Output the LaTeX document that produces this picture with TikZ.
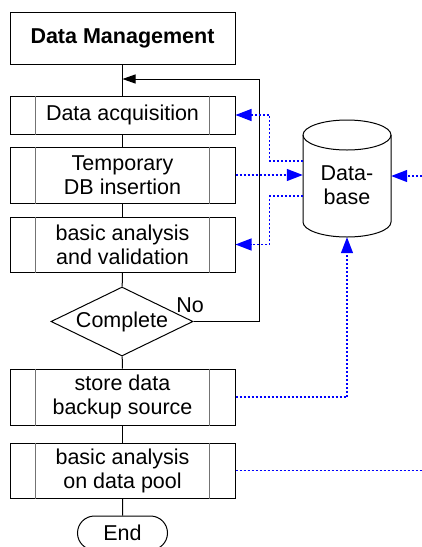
\documentclass[tikz,border=0pt]{standalone}
\usepackage{fontspec}
\setmainfont{Liberation Sans}
\usetikzlibrary{shapes.geometric,shapes.misc,arrows.meta,calc}
\begin{document}
\begin{tikzpicture}[x=1pt,y=-1pt,
  every node/.style={font=\fontsize{21.5}{24}\selectfont},
  procbox/.style={draw=black,line width=1pt,minimum width=225pt,inner sep=0pt,align=center},
  titlebox/.style={draw=black,line width=1pt,minimum width=225pt,minimum height=52pt,inner sep=0pt,font=\fontsize{21.5}{24}\selectfont\bfseries},
  decbox/.style={draw=black,line width=1pt,diamond,aspect=2.06,minimum width=142pt,minimum height=69pt,inner sep=0pt},
  termbox/.style={draw=black,line width=1pt,rounded rectangle,minimum width=90pt,minimum height=34pt,inner sep=0pt},
  flow/.style={draw=black,line width=1pt},
  blkarrow/.style={flow,-{Triangle[length=13pt,width=9pt]}},
  bluedot/.style={draw=blue,line width=1.2pt,dash pattern=on 2pt off 2pt},
  bluearrow/.style={bluedot,-{Triangle[length=16pt,width=12pt,fill=blue]}},
  innerline/.style={draw=black!55,line width=1pt}
]
\useasboundingbox (0,0) rectangle (422,547);
\clip (0,0) rectangle (422,547);

\node[titlebox] (title) at (122.5,38) {Data Management};
\node[procbox,minimum height=38pt] (acq) at (122.5,115) {Data acquisition};
\node[procbox,minimum height=56pt] (temp) at (122.5,175) {Temporary\\DB insertion};
\node[procbox,minimum height=55pt] (basic) at (122.5,244.5) {basic analysis\\and validation};
\node[decbox] (dec) at (122,321.5) {Complete};
\node (no) at (190,305) {No};
\node[procbox,minimum height=56pt] (store) at (122.5,397) {store data\\backup source};
\node[procbox,minimum height=55pt] (pool) at (122.5,470.5) {basic analysis\\on data pool};
\node[termbox] (end) at (122.5,533) {End};

\foreach \n in {acq,temp,basic,store,pool}{
  \draw[innerline] ($(\n.north west)+(26,0)$) -- ($(\n.south west)+(26,0)$);
  \draw[innerline] ($(\n.north east)+(-26,0)$) -- ($(\n.south east)+(-26,0)$);
}

% database cylinder
\node[minimum width=88pt,minimum height=117pt,inner sep=0pt] (db) at (347,178.5) {};
\node[align=center] (dbtext) at (347,185) {Data-\\base};
\draw[flow] (303,135) arc[x radius=44,y radius=15,start angle=180,end angle=360]
  -- (391,222) arc[x radius=44,y radius=15,start angle=0,end angle=180] -- cycle;
\draw[flow] (303,135) arc[x radius=44,y radius=15,start angle=180,end angle=0];

% main flow
\draw[flow] (title) -- (acq);
\draw[flow] (acq) -- (temp);
\draw[flow] (temp) -- (basic);
\draw[flow] (basic) -- (dec);
\draw[flow] (dec) -- (store);
\draw[flow] (store) -- (pool);
\draw[flow] (pool) -- (end);

\coordinate (ret) at (259,79);
\coordinate (join) at (122.5,79);
\draw[blkarrow] (dec.east) -| (ret) -- (join);

% database connections
\draw[bluearrow] (db.west |- 0,161) -- ++(-33,0) |- (acq.east);
\draw[bluearrow] (temp.east) -- (db.west |- temp.east);
\draw[bluearrow] (db.west |- 0,196) -- ++(-33,0) |- (basic.east);
\coordinate (rin) at (422,176);
\draw[bluearrow] (rin) -- (db.east |- rin);
\draw[bluearrow] (store.east) -| (db.south);
\coordinate (rout) at (422,470.5);
\draw[bluedot] (pool.east) -- (rout);
\end{tikzpicture}
\end{document}
